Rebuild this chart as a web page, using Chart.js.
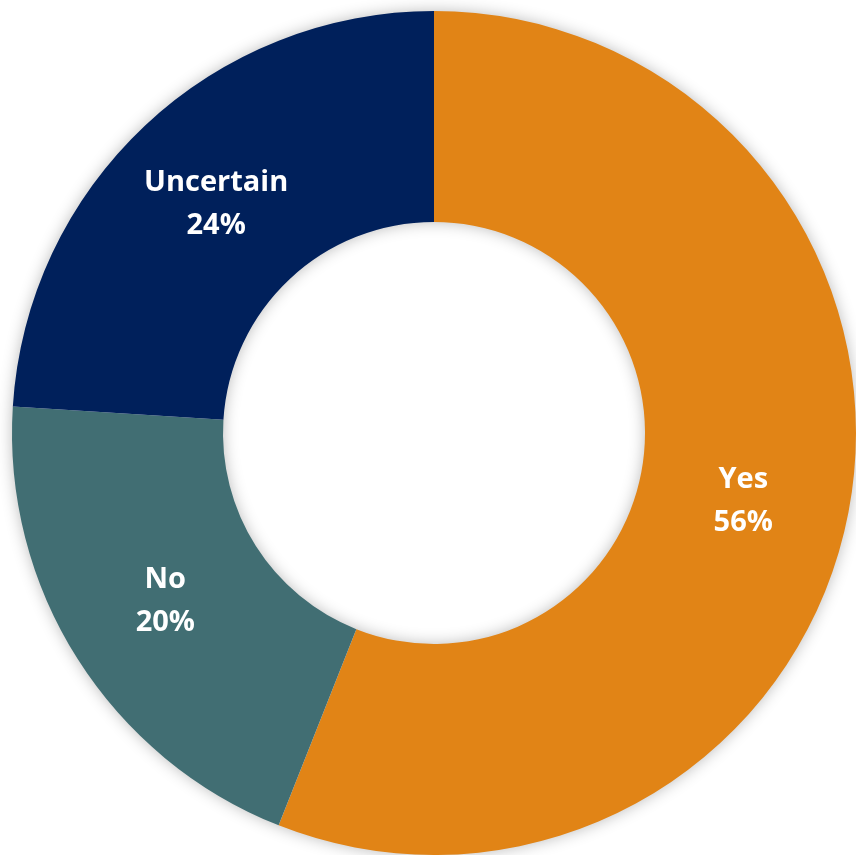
<!DOCTYPE html>
<html>
<head>
<meta charset="utf-8">
<script src="https://cdn.jsdelivr.net/npm/chart.js@4/dist/chart.umd.min.js"></script>
<style>
  html, body { margin: 0; padding: 0; background: #ffffff; }
  #chart { display: block; }
</style>
</head>
<body>
<canvas id="chart" width="856" height="855"></canvas>
<script>
// Survey answers and their shares (percent)
const categories = ['Yes', 'No', 'Uncertain'];
const shares = [56, 20, 24];
const sliceColors = ['#E18416', '#416E73', '#00205B'];

// Per-slice shift (degrees) of the label from the slice's middle angle
const labelAngleShift = [1.5, 0.5, -0.3];

// Soft grey glow drawn behind the ring
const ringShadow = {
  id: 'ringShadow',
  beforeDatasetsDraw(chart) {
    const arc = chart.getDatasetMeta(0).data[0];
    if (!arc) return;
    const { x, y, outerRadius, innerRadius } = arc.getProps(['x', 'y', 'outerRadius', 'innerRadius'], true);
    const ctx = chart.ctx;
    ctx.save();
    ctx.shadowColor = 'rgba(0,0,0,0.30)';
    ctx.shadowBlur = 16;
    ctx.shadowOffsetX = 0;
    ctx.shadowOffsetY = 0;
    ctx.fillStyle = '#ffffff';
    ctx.beginPath();
    ctx.arc(x, y, outerRadius - 1, 0, Math.PI * 2);
    ctx.arc(x, y, innerRadius + 1, 0, Math.PI * 2, true);
    ctx.closePath();
    ctx.fill('evenodd');
    ctx.restore();
  }
};

// Two-line white labels: category name and percentage
const sliceLabels = {
  id: 'sliceLabels',
  afterDatasetsDraw(chart) {
    const meta = chart.getDatasetMeta(0);
    const ctx = chart.ctx;
    ctx.save();
    ctx.fillStyle = '#ffffff';
    ctx.textAlign = 'center';
    ctx.textBaseline = 'middle';
    ctx.font = 'bold 29px "Open Sans", sans-serif';
    meta.data.forEach((arc, i) => {
      const p = arc.getProps(['x', 'y', 'startAngle', 'endAngle', 'innerRadius', 'outerRadius'], true);
      const mid = (p.startAngle + p.endAngle) / 2 + labelAngleShift[i] * Math.PI / 180;
      const r = (p.innerRadius + p.outerRadius) / 2;
      const cx = p.x + r * Math.cos(mid);
      const cy = p.y + r * Math.sin(mid);
      ctx.fillText(categories[i], cx, cy - 21);
      ctx.fillText(shares[i] + '%', cx, cy + 22);
    });
    ctx.restore();
  }
};

new Chart(document.getElementById('chart'), {
  type: 'doughnut',
  data: {
    labels: categories,
    datasets: [{
      data: shares,
      backgroundColor: sliceColors,
      borderWidth: 0,
      hoverOffset: 0
    }]
  },
  options: {
    responsive: false,
    animation: false,
    cutout: '50%',
    layout: { padding: { left: 12, top: 11, right: 0, bottom: 0 } },
    plugins: {
      legend: { display: false },
      tooltip: { enabled: false }
    }
  },
  plugins: [ringShadow, sliceLabels]
});
</script>
</body>
</html>
